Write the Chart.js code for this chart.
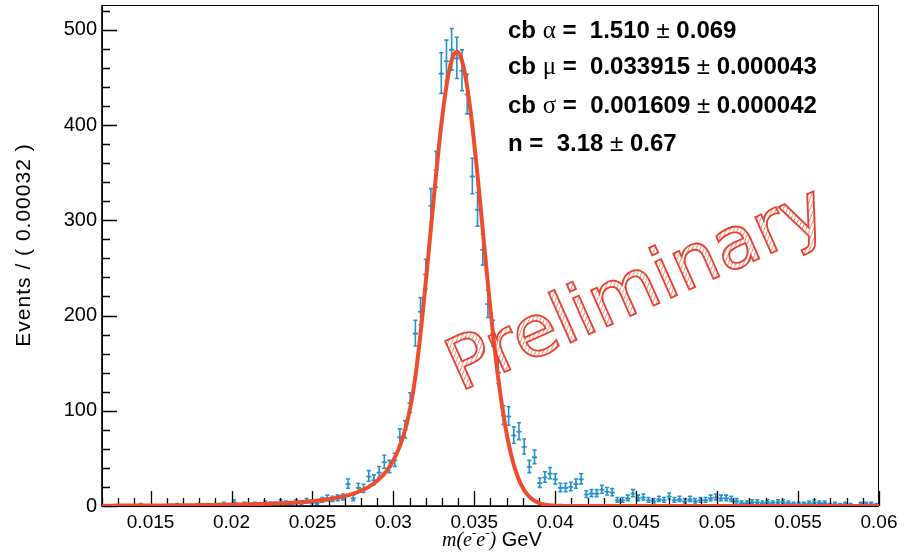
<!DOCTYPE html>
<html>
<head>
<meta charset="utf-8">
<script src="https://cdn.jsdelivr.net/npm/chart.js@4.4.1/dist/chart.umd.min.js"></script>
<style>
  html, body { margin: 0; padding: 0; background: #fff; }
  #wrap { position: relative; width: 904px; height: 552px; }
</style>
</head>
<body>
<div id="wrap"><canvas id="massChart" width="904" height="552"></canvas></div>
<script>
// binning of the m(e-e-) histogram
const xLow = 0.012;
const xHigh = 0.06;
const binWidth = 0.00032;

// events per bin, 150 bins from xLow
const counts = [
  0, 0, 0, 0, 0, 0, 0, 1, 0, 0,
  0, 0, 0, 0, 1, 0, 0, 0, 1, 0,
  1, 0, 1, 2, 1, 4, 1, 2, 1, 2,
  1, 3, 2, 2, 4, 3, 2, 4, 3, 5,
  4, 3, 6, 8, 7, 8, 9, 23, 8, 19,
  18, 31, 27, 35, 46, 41, 48, 72, 80, 108,
  181, 204, 243, 315, 353, 454, 467, 479, 470, 457,
  432, 346, 311, 269, 212, 181, 140, 95, 94, 74,
  78, 62, 41, 51, 24, 30, 34, 28, 19, 19,
  20, 23, 28, 12, 13, 13, 17, 15, 14, 6,
  6, 8, 13, 8, 9, 6, 5, 7, 6, 10,
  6, 7, 5, 7, 5, 6, 6, 8, 9, 8,
  8, 7, 5, 3, 3, 4, 4, 3, 4, 3,
  4, 4, 3, 2, 2, 2, 3, 4, 3, 3,
  1, 2, 1, 2, 1, 0, 2, 2, 2, 1
];

const xTickValues = [0.015, 0.02, 0.025, 0.03, 0.035, 0.04, 0.045, 0.05, 0.055, 0.06];
const xTickLabels = ['0.015', '0.02', '0.025', '0.03', '0.035', '0.04', '0.045', '0.05', '0.055', '0.06'];
const yTickValues = [0, 100, 200, 300, 400, 500];
const yTickLabels = ['0', '100', '200', '300', '400', '500'];
const yMax = 526;

// crystal ball fit result
const cbAlpha = 1.510;
const cbMu = 0.033915;
const cbSigma = 0.001609;
const cbN = 3.18;
const fitPeak = 477;

const fitLines = [
  [['cb ', 'b'], ['α', 'g'], [' =  ', 'b'], ['1.510 ', 'b'], ['±', 'r'], [' 0.069', 'b']],
  [['cb ', 'b'], ['μ', 'g'], [' =  ', 'b'], ['0.033915 ', 'b'], ['±', 'r'], [' 0.000043', 'b']],
  [['cb ', 'b'], ['σ', 'g'], [' =  ', 'b'], ['0.001609 ', 'b'], ['±', 'r'], [' 0.000042', 'b']],
  [['n =  ', 'b'], ['3.18 ', 'b'], ['±', 'r'], [' 0.67', 'b']]
];

const dataBlue = 'rgb(38,146,205)';
const fitRed = '#ee4c2e';

function crystalBall(x) {
  const t = (x - cbMu) / cbSigma;
  if (t > -cbAlpha) return Math.exp(-0.5 * t * t);
  const a = Math.pow(cbN / cbAlpha, cbN) * Math.exp(-0.5 * cbAlpha * cbAlpha);
  const b = cbN / cbAlpha - cbAlpha;
  return a * Math.pow(b - t, -cbN);
}

const dataPoints = counts.map((n, i) => ({ x: xLow + (i + 0.5) * binWidth, y: n }));

const fitCurve = [];
for (let k = 0; k <= 600; k++) {
  const x = xLow + (xHigh - xLow) * k / 600;
  fitCurve.push({ x: x, y: fitPeak * crystalBall(x) });
}

// frame, inward ticks and poisson error bars
const histPlugin = {
  id: 'histPlugin',
  beforeDatasetsDraw(chart) {
    const ctx = chart.ctx;
    const xs = chart.scales.x, ys = chart.scales.y;
    const a = chart.chartArea;
    ctx.save();

    // error bars
    ctx.strokeStyle = dataBlue;
    ctx.lineWidth = 1.6;
    counts.forEach((n, i) => {
      const xc = xLow + (i + 0.5) * binWidth;
      const px = xs.getPixelForValue(xc);
      const py = ys.getPixelForValue(n);
      const r = Math.sqrt(n + 0.25);
      const hi = ys.getPixelForValue(n + 0.5 + r);
      const lo = ys.getPixelForValue(Math.max(0, n + 0.5 - r));
      const x0 = xs.getPixelForValue(xc - binWidth / 2);
      const x1 = xs.getPixelForValue(xc + binWidth / 2);
      ctx.beginPath();
      ctx.moveTo(x0, py); ctx.lineTo(x1, py);
      ctx.moveTo(px, lo); ctx.lineTo(px, hi);
      if (n > 0) {
        ctx.moveTo(px - 2, hi); ctx.lineTo(px + 2, hi);
        ctx.moveTo(px - 2, lo); ctx.lineTo(px + 2, lo);
      }
      ctx.stroke();
    });

    // frame
    ctx.strokeStyle = '#000';
    ctx.lineWidth = 1;
    ctx.strokeRect(a.left + 0.5, a.top + 0.5, a.right - a.left - 1, a.bottom - a.top);
    ctx.lineWidth = 1.6;
    ctx.beginPath();
    ctx.moveTo(a.left, a.top); ctx.lineTo(a.left, a.bottom); ctx.lineTo(a.right, a.bottom);
    ctx.stroke();

    // x ticks every 0.001, long every 0.005
    ctx.lineWidth = 1.3;
    ctx.beginPath();
    for (let k = 12; k <= 60; k++) {
      const px = Math.round(xs.getPixelForValue(k / 1000)) + 0.5;
      const len = (k % 5 === 0) ? 15 : 8;
      ctx.moveTo(px, a.bottom); ctx.lineTo(px, a.bottom - len);
    }
    // y ticks every 20, long every 100
    for (let v = 0; v <= yMax; v += 20) {
      const py = Math.round(ys.getPixelForValue(v)) + 0.5;
      const len = (v % 100 === 0) ? 15 : 8;
      ctx.moveTo(a.left, py); ctx.lineTo(a.left + len, py);
    }
    ctx.stroke();
    ctx.restore();
  },
  afterDraw(chart) {
    const ctx = chart.ctx;
    ctx.save();
    ctx.fillStyle = '#000';
    ctx.textBaseline = 'alphabetic';

    // fit parameters
    const fonts = {
      b: 'bold 24px "Liberation Sans", Arial, sans-serif',
      g: '25px "Liberation Serif", "Times New Roman", serif',
      r: '24px "Liberation Sans", Arial, sans-serif'
    };
    const baselines = [38, 74, 113, 151];
    fitLines.forEach((segs, li) => {
      let x = 508;
      segs.forEach(([txt, f]) => {
        ctx.font = fonts[f];
        ctx.fillText(txt, x, baselines[li]);
        x += ctx.measureText(txt).width;
      });
    });

    // y axis title
    ctx.save();
    ctx.translate(30, 245);
    ctx.rotate(-Math.PI / 2);
    ctx.font = '21px "Liberation Sans", Arial, sans-serif';
    ctx.letterSpacing = '1px';
    ctx.textAlign = 'center';
    ctx.fillText('Events / ( 0.00032 )', 0, 0);
    ctx.restore();

    // x axis title
    const xt = [
      ['m(e', 'italic 20px "Liberation Serif", serif', 0],
      ['-', 'italic 13px "Liberation Serif", serif', -9],
      ['e', 'italic 20px "Liberation Serif", serif', 0],
      ['-', 'italic 13px "Liberation Serif", serif', -9],
      [')', 'italic 20px "Liberation Serif", serif', 0],
      [' GeV', '20px "Liberation Sans", Arial, sans-serif', 0]
    ];
    let tx = 442;
    xt.forEach(([txt, f, dy]) => {
      ctx.font = f;
      ctx.fillText(txt, tx, 546 + dy);
      tx += ctx.measureText(txt).width;
    });

    // watermark
    const tile = document.createElement('canvas');
    tile.width = 5; tile.height = 5;
    const tc = tile.getContext('2d');
    tc.strokeStyle = 'rgba(232,70,52,0.8)';
    tc.lineWidth = 1;
    tc.beginPath();
    tc.moveTo(0, 5); tc.lineTo(5, 0);
    tc.stroke();
    ctx.translate(638, 292);
    ctx.rotate(-24 * Math.PI / 180);
    ctx.font = '72px "DejaVu Sans", sans-serif';
    ctx.textAlign = 'center';
    ctx.textBaseline = 'middle';
    ctx.fillStyle = ctx.createPattern(tile, 'repeat');
    ctx.fillText('Preliminary', 0, 0);
    ctx.strokeStyle = 'rgb(230,66,48)';
    ctx.lineWidth = 1.8;
    ctx.strokeText('Preliminary', 0, 0);
    ctx.restore();
  }
};

Chart.defaults.font.family = '"Liberation Sans", Arial, sans-serif';
Chart.defaults.color = '#000';

new Chart(document.getElementById('massChart').getContext('2d'), {
  type: 'scatter',
  data: {
    datasets: [
      {
        label: 'fit',
        data: fitCurve,
        showLine: true,
        borderColor: fitRed,
        borderWidth: 4,
        pointRadius: 0,
        tension: 0,
        order: 0
      },
      {
        label: 'data',
        data: dataPoints,
        pointStyle: 'rect',
        pointRadius: 1.6,
        backgroundColor: dataBlue,
        borderWidth: 0,
        order: 1
      }
    ]
  },
  options: {
    responsive: false,
    animation: false,
    layout: { padding: { top: 5, right: 25, left: 0, bottom: 0 } },
    plugins: { legend: { display: false }, tooltip: { enabled: false } },
    scales: {
      x: {
        type: 'linear',
        min: xLow,
        max: xHigh,
        grid: { display: false },
        border: { display: false },
        afterBuildTicks: s => { s.ticks = xTickValues.map(v => ({ value: v })); },
        afterFit: s => { s.height = 46; s.paddingLeft = 0; s.paddingRight = 0; },
        ticks: {
          padding: -3,
          maxRotation: 0,
          autoSkip: false,
          font: { size: 19 },
          callback: (v, i) => xTickLabels[i]
        }
      },
      y: {
        type: 'linear',
        min: 0,
        max: yMax,
        grid: { display: false },
        border: { display: false },
        afterBuildTicks: s => { s.ticks = yTickValues.map(v => ({ value: v })); },
        afterFit: s => { s.width = 102; s.paddingTop = 0; s.paddingBottom = 0; },
        ticks: {
          padding: -3,
          autoSkip: false,
          font: { size: 20 },
          callback: (v, i) => yTickLabels[i]
        }
      }
    }
  },
  plugins: [histPlugin]
});
</script>
</body>
</html>
